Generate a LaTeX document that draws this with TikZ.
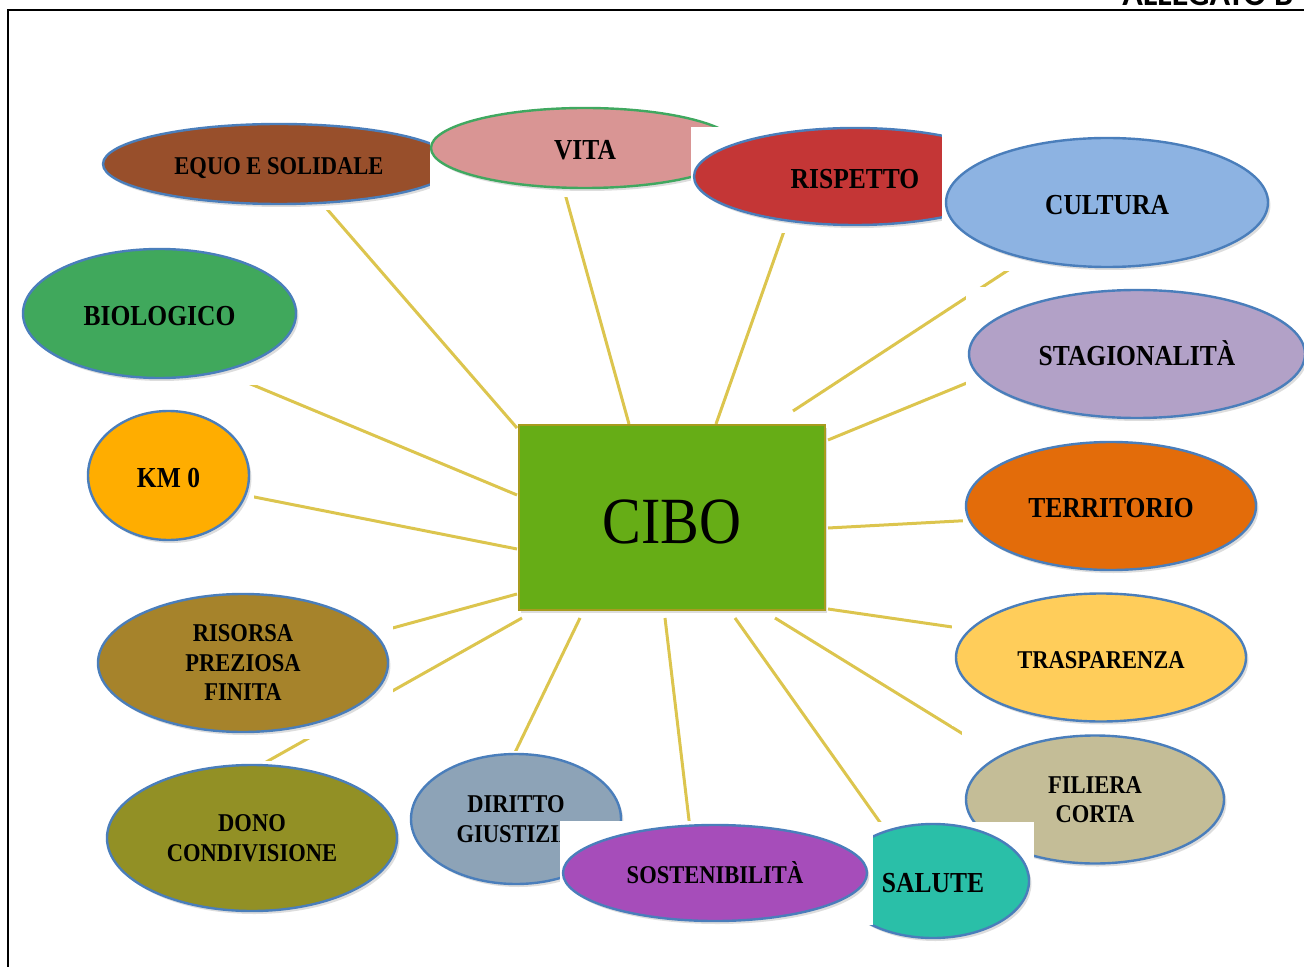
\documentclass[tikz,border=0pt]{standalone}
\usepackage{fontspec}
\setmainfont{Liberation Serif}
\newfontfamily\lbl{Liberation Serif}[FakeStretch=0.88]
\newfontfamily\hdr{Carlito}
\usetikzlibrary{shapes.geometric,shadows}
\definecolor{ebord}{HTML}{4A7EBB}
\definecolor{linkc}{HTML}{DCC54E}
\definecolor{cibofill}{HTML}{66AD16}
\definecolor{ciboborder}{HTML}{A89B1E}
\definecolor{cEquo}{HTML}{984F2B}
\definecolor{cVita}{HTML}{D99594}
\definecolor{cVitaB}{HTML}{40A860}
\definecolor{cRisp}{HTML}{C43636}
\definecolor{cCult}{HTML}{8DB3E2}
\definecolor{cStag}{HTML}{B2A1C7}
\definecolor{cTerr}{HTML}{E36C0A}
\definecolor{cTrasp}{HTML}{FFCD5A}
\definecolor{cFil}{HTML}{C4BD97}
\definecolor{cSal}{HTML}{2ABFA8}
\definecolor{cSost}{HTML}{A64DBA}
\definecolor{cDir}{HTML}{8DA3B7}
\definecolor{cDono}{HTML}{929025}
\definecolor{cRis}{HTML}{A6832B}
\definecolor{cKm}{HTML}{FFAD00}
\definecolor{cBio}{HTML}{40A85C}
\begin{document}
\begin{tikzpicture}[x=0.5pt,y=-0.5pt,
  concept/.style={ellipse, draw=ebord, line width=1.2pt, inner sep=0pt, align=center,
    text=black, text depth=0pt,
    drop shadow={shadow xshift=1.2pt, shadow yshift=-1.5pt, opacity=0.22, fill=black!60}},
  small/.style={font=\lbl\bfseries\fontsize{12.8}{14.75}\selectfont},
  smallone/.style={small, text height=10.5pt},
  large/.style={font=\lbl\bfseries\fontsize{14.5}{16.5}\selectfont, text height=11.6pt},
  link/.style={draw=linkc, line width=1.5pt},
  cover/.style={fill=white}]
\useasboundingbox (0,0) rectangle (1304,967);
% frame and header
\draw[line width=1pt] (8,967) -- (8,10) -- (1310,10);
\node[anchor=base west, inner sep=0pt, font=\hdr\bfseries\fontsize{17}{20}\selectfont] (allegato) at (1122,6) {ALLEGATO B};
% connector end points
\coordinate (s1) at (517,428);  \coordinate (t1) at (320,201);
\coordinate (s2) at (629,424);  \coordinate (t2) at (562,183);
\coordinate (s3) at (716,424);  \coordinate (t3) at (788,220);
\coordinate (s4) at (793,411);  \coordinate (t4) at (1016,265);
\coordinate (s5) at (828,440);  \coordinate (t5) at (979,378);
\coordinate (s6) at (828,528);  \coordinate (t6) at (977,520);
\coordinate (s7) at (828,609);  \coordinate (t7) at (966,629);
\coordinate (s8) at (775,618);  \coordinate (t8) at (976,742);
\coordinate (s9) at (735,618);  \coordinate (t9) at (889,835);
\coordinate (s10) at (665,618); \coordinate (t10) at (691,837);
\coordinate (s11) at (580,618); \coordinate (t11) at (508,767);
\coordinate (s12) at (522,618); \coordinate (t12) at (252,770);
\coordinate (s13) at (517,594); \coordinate (t13) at (378,632);
\coordinate (s14) at (517,549); \coordinate (t14) at (239,494);
\coordinate (s15) at (517,495); \coordinate (t15) at (241,380);
\foreach \i in {1,...,15} {\draw[link] (s\i) -- (t\i);}
% central node
\node[draw=ciboborder, fill=cibofill, line width=1pt, minimum width=153pt, minimum height=92.5pt,
  drop shadow={shadow xshift=1.2pt, shadow yshift=-1.5pt, opacity=0.22, fill=black!60},
  text height=26.4pt, text depth=0pt,
  font=\lbl\fontsize{33}{36}\selectfont] (cibo) at (672,517.5) {CIBO};
% concepts (each on its white box)
\fill[cover] (100,120) rectangle (458,210);
\node[concept, smallone, fill=cEquo, minimum width=176pt, minimum height=40pt] (equo) at (279,164) {EQUO E SOLIDALE};
\fill[cover] (430,104) rectangle (742,197);
\node[concept, large, fill=cVita, draw=cVitaB, minimum width=154pt, minimum height=40pt] (vita) at (585,148) {VITA};
\fill[cover] (691,127) rectangle (1020,233);
\node[concept, large, fill=cRisp, minimum width=161pt, minimum height=48.5pt] (rispetto) at (855,176.5) {RISPETTO};
\fill[cover] (942,134) rectangle (1272,271);
\node[concept, large, fill=cCult, minimum width=161pt, minimum height=64.5pt] (cultura) at (1107,202.5) {CULTURA};
\fill[cover] (966,287) rectangle (1310,422);
\node[concept, large, fill=cStag, minimum width=168pt, minimum height=64pt] (stag) at (1137,354) {STAGIONALITÀ};
\fill[cover] (963,438) rectangle (1260,574);
\node[concept, large, fill=cTerr, minimum width=145pt, minimum height=64pt] (terr) at (1111,506) {TERRITORIO};
\fill[cover] (952,590) rectangle (1250,726);
\node[concept, smallone, fill=cTrasp, minimum width=145pt, minimum height=64pt] (trasp) at (1101,657.5) {TRASPARENZA};
\fill[cover] (962,731) rectangle (1228,866);
\node[concept, small, fill=cFil, minimum width=129pt, minimum height=64pt] (filiera) at (1095,799.5) {FILIERA\\CORTA};
\fill[cover] (408,751) rectangle (624,887);
\node[concept, small, fill=cDir, minimum width=105pt, minimum height=65pt] (diritto) at (516,819) {DIRITTO\\GIUSTIZIA};
\fill[cover] (835,822) rectangle (1034,942);
\node[concept, large, fill=cSal, minimum width=96pt, minimum height=57pt] (salute) at (933,881) {SALUTE};
\fill[cover] (560,821) rectangle (873,925);
\node[concept, smallone, fill=cSost, minimum width=152pt, minimum height=48pt] (sost) at (715,873) {SOSTENIBILITÀ};
\fill[cover] (105,761) rectangle (400,914);
\node[concept, small, fill=cDono, minimum width=145pt, minimum height=73pt] (dono) at (252,838) {DONO\\CONDIVISIONE};
\fill[cover] (95,590) rectangle (393,739);
\node[concept, small, fill=cRis, minimum width=145pt, minimum height=69pt] (risorsa) at (243,663) {RISORSA\\PREZIOSA\\FINITA};
\fill[cover] (85,408) rectangle (254,544);
\node[concept, large, fill=cKm, minimum width=80.5pt, minimum height=64.5pt] (km) at (168.5,475.5) {KM 0};
\fill[cover] (20,246) rectangle (299,385);
\node[concept, large, fill=cBio, minimum width=136.5pt, minimum height=64.5pt] (bio) at (159.5,313.5) {BIOLOGICO};
\end{tikzpicture}
\end{document}
